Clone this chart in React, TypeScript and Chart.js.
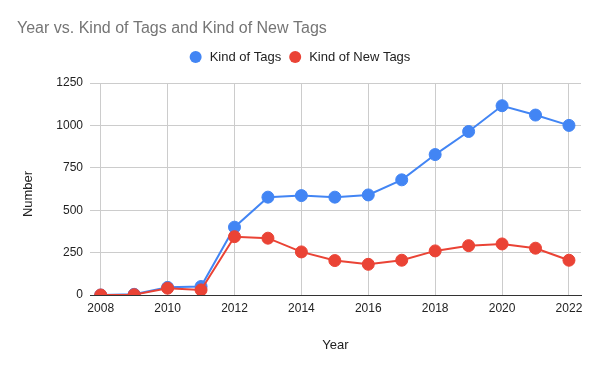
import React, { useEffect, useRef } from "react";
import { Chart, registerables } from "chart.js";

Chart.register(...registerables);

const chartTitle = "Year vs. Kind of Tags and Kind of New Tags";
const years = [2008, 2009, 2010, 2011, 2012, 2013, 2014, 2015, 2016, 2017, 2018, 2019, 2020, 2021, 2022];
const kindOfTags = [0, 4, 45, 50, 400, 577, 586, 577, 590, 679, 828, 964, 1116, 1061, 1000];
const kindOfNewTags = [0, 2, 40, 30, 344, 335, 254, 203, 181, 205, 260, 291, 301, 276, 205];
const seriesNames = ["Kind of Tags", "Kind of New Tags"];
const seriesColors = ["#4285F4", "#EA4335"];
const xTicks = [2008, 2010, 2012, 2014, 2016, 2018, 2020, 2022];
const yTicks = [0, 250, 500, 750, 1000, 1250];
const xAxisTitle = "Year";
const yAxisTitle = "Number";

const FONT = "'Liberation Sans', Arial, sans-serif";

const headerPlugin = {
  id: "header",
  afterDraw(chart: any) {
    const ctx = chart.ctx;
    ctx.save();
    // title
    ctx.font = `16px ${FONT}`;
    ctx.fillStyle = "#757575";
    ctx.textBaseline = "middle";
    ctx.textAlign = "left";
    ctx.fillText(chartTitle, 17, 29);
    // legend
    ctx.font = `13px ${FONT}`;
    const r = 6;
    const gapText = 14;
    const gapItems = 8;
    const widths = seriesNames.map((n) => ctx.measureText(n).width);
    let total = 0;
    widths.forEach((w, i) => {
      total += r + gapText + w;
      if (i < widths.length - 1) total += gapItems + r;
    });
    total += r;
    let x = chart.width / 2 + 6 - total / 2;
    const y = 57;
    seriesNames.forEach((n, i) => {
      const cx = x + r;
      ctx.beginPath();
      ctx.arc(cx, y, r, 0, Math.PI * 2);
      ctx.fillStyle = seriesColors[i];
      ctx.fill();
      ctx.fillStyle = "#222222";
      ctx.textBaseline = "middle";
      ctx.fillText(n, cx + gapText, y + 0.5);
      x = cx + gapText + widths[i] + gapItems;
    });
    // y axis title
    ctx.translate(28, 194);
    ctx.rotate(-Math.PI / 2);
    ctx.font = `13px ${FONT}`;
    ctx.fillStyle = "#222222";
    ctx.textAlign = "center";
    ctx.textBaseline = "middle";
    ctx.fillText(yAxisTitle, 0, 0);
    ctx.restore();
  },
};

export default function App() {
  const ref = useRef<HTMLCanvasElement | null>(null);
  useEffect(() => {
    if (!ref.current) return;
    const chart = new Chart(ref.current, {
      type: "line",
      data: {
        datasets: [
          {
            label: seriesNames[0],
            data: years.map((y, i) => ({ x: y, y: kindOfTags[i] })),
            borderColor: seriesColors[0],
            backgroundColor: seriesColors[0],
            pointBackgroundColor: seriesColors[0],
            pointBorderColor: seriesColors[0],
            borderWidth: 2,
            pointRadius: 6,
            pointBorderWidth: 1,
            tension: 0,
            order: 1,
          },
          {
            label: seriesNames[1],
            data: years.map((y, i) => ({ x: y, y: kindOfNewTags[i] })),
            borderColor: seriesColors[1],
            backgroundColor: seriesColors[1],
            pointBackgroundColor: seriesColors[1],
            pointBorderColor: seriesColors[1],
            borderWidth: 2,
            pointRadius: 6,
            pointBorderWidth: 1,
            tension: 0,
            order: 0,
          },
        ],
      },
      options: {
        responsive: false,
        animation: false,
        maintainAspectRatio: false,
        layout: { padding: { top: 83, right: 19, bottom: 0, left: 0 } },
        plugins: {
          legend: { display: false },
          title: { display: false },
          tooltip: { enabled: false },
        },
        scales: {
          x: {
            type: "linear",
            min: 2007.68,
            max: 2022.36,
            afterBuildTicks: (scale: any) => {
              scale.ticks = xTicks.map((v) => ({ value: v }));
            },
            afterFit: (scale: any) => {
              scale.height = 76;
            },
            ticks: {
              autoSkip: false,
              maxRotation: 0,
              padding: 6,
              color: "#222222",
              font: { family: FONT, size: 12 },
              callback: (v: any) => String(v),
            },
            grid: { color: "#cccccc", drawTicks: false, lineWidth: 1 },
            border: { display: true, color: "#333333", width: 1 },
            title: {
              display: true,
              text: xAxisTitle,
              color: "#222222",
              font: { family: FONT, size: 13 },
              padding: { top: 0, bottom: 18 },
            },
          },
          y: {
            min: 0,
            max: 1250,
            afterBuildTicks: (scale: any) => {
              scale.ticks = yTicks.map((v) => ({ value: v }));
            },
            afterFit: (scale: any) => {
              scale.width = 90;
            },
            ticks: {
              padding: 7,
              color: "#222222",
              font: { family: FONT, size: 12 },
              callback: (v: any) => String(v),
            },
            grid: { color: "#cccccc", drawTicks: false, lineWidth: 1 },
            border: { display: false },
            title: { display: false },
          },
        },
      },
      plugins: [headerPlugin],
    });
    return () => chart.destroy();
  }, []);
  return (
    <div style={{ position: "fixed", left: 0, top: 0, width: 600, height: 371, background: "#fff" }}>
      <canvas ref={ref} width={600} height={371} style={{ width: 600, height: 371, display: "block" }} />
    </div>
  );
}
